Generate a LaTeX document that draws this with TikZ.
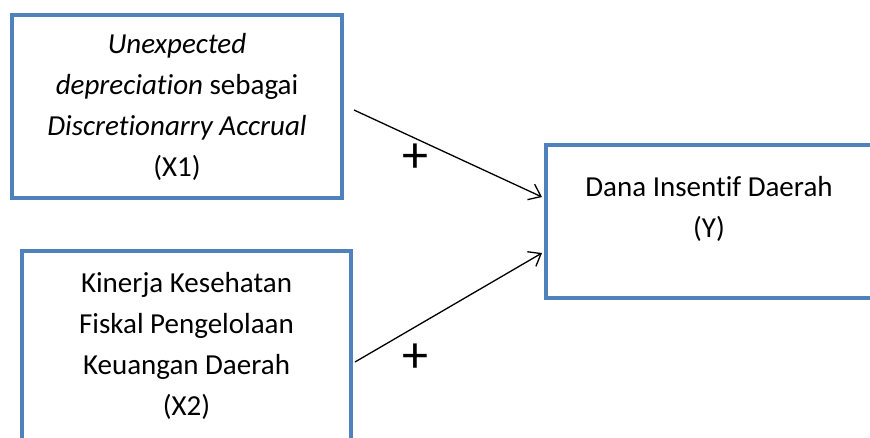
\documentclass[tikz,border=0pt]{standalone}
\usepackage{fontspec}
\setmainfont{Carlito}[Ligatures=NoCommon]
\usetikzlibrary{arrows.meta,positioning}

\definecolor{boxblue}{HTML}{4F81BD}

\begin{document}
\begin{tikzpicture}[x=1pt,y=-1pt,->,>={Straight Barb[length=11pt,width=17pt]},line width=1.3pt,
  varbox/.style={draw=boxblue,line width=4pt,rectangle,align=center,
    font=\fontsize{29}{41}\selectfont,inner sep=0pt},
  sign/.style={font=\fontsize{52}{52}\selectfont,inner sep=0pt}]

\useasboundingbox (0,0) rectangle (870,437);
\clip (0,0) rectangle (870,437);

\node[varbox,minimum width=330pt,minimum height=183pt] (x1) at (177,106.5)
  {\textit{Unexpected}\\ \textit{depreciation} sebagai\\ \textit{Discretionarry Accrual}\\ (X1)};
\node[varbox,minimum width=329pt,minimum height=190pt] (x2) at (186.5,346)
  {Kinerja Kesehatan\\ Fiskal Pengelolaan\\ Keuangan Daerah\\ (X2)};
\node[varbox,minimum width=326pt,minimum height=153pt,text depth=30pt] (y) at (709,221.5)
  {Dana Insentif Daerah\\ (Y)};

\node[sign] (plus1) at (415,158) {+};
\node[sign] (plus2) at (415,358) {+};

  \path ([xshift=10pt,yshift=-3.5pt]x1.east) edge ([xshift=-2pt,yshift=24.5pt]y.west)
        ([xshift=2pt,yshift=-16pt]x2.east)   edge ([xshift=-2pt,yshift=-31.5pt]y.west);

\end{tikzpicture}
\end{document}
